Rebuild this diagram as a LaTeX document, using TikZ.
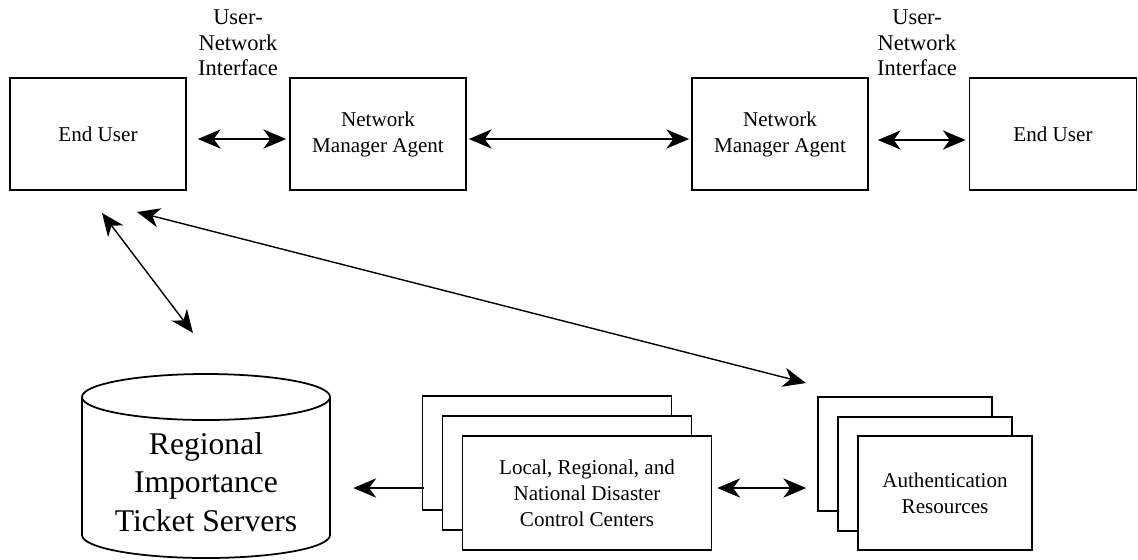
\documentclass[tikz,border=0pt]{standalone}
\usepackage{fontspec}
\setmainfont{Liberation Serif}
\usetikzlibrary{arrows.meta}
\tikzset{
  box/.style={draw, line width=1pt, fill=white, minimum width=3.52cm, minimum height=2.24cm, align=center, font=\fontsize{12}{14.8}\selectfont},
  stackbox/.style={box, minimum height=2.28cm},
  lbl/.style={align=center, font=\fontsize{12.8}{14.5}\selectfont},
  arr/.style={line width=0.8pt, {Stealth[length=13pt,width=11pt,inset=4pt]}-{Stealth[length=13pt,width=11pt,inset=4pt]}},
  arrl/.style={line width=0.8pt, -{Stealth[length=13pt,width=11pt,inset=4pt]}}
}
\begin{document}
\begin{tikzpicture}[x=0.02cm,y=-0.02cm]
\useasboundingbox (0,0) rectangle (1138,559);
\node[box] (eu1) at (98,134) {End User};
\node[box] (nma1) at (378,134) {Network\\Manager Agent};
\node[box] (nma2) at (780,134) {Network\\Manager Agent};
\node[box, minimum width=3.34cm] (eu2) at (1053,134) {End User};
\node[lbl] (uni1) at (238,43) {User-\\Network\\Interface};
\node[lbl] (uni2) at (917,43) {User-\\Network\\Interface};

\node[stackbox, minimum width=4.98cm] (dcc3) at (547,453) {};
\node[stackbox, minimum width=4.98cm] (dcc2) at (567,473) {};
\node[stackbox, minimum width=4.98cm] (dcc) at (587,493) {Local, Regional, and\\National Disaster\\Control Centers};
\node[stackbox, minimum width=3.48cm] (auth3) at (905,454) {};
\node[stackbox, minimum width=3.48cm] (auth2) at (925,474) {};
\node[stackbox, minimum width=3.48cm] (auth) at (945,493) {Authentication\\Resources};

\draw[line width=1pt] (82,397) -- (82,535) arc[start angle=180, end angle=0, x radius=124, y radius=23] -- (330,397);
\draw[line width=1pt] (206,397) ellipse[x radius=124, y radius=23];
\node[align=center, minimum width=4.96cm, minimum height=3.7cm, font=\fontsize{18}{21.8}\selectfont] (rits) at (206,482) {Regional\\Importance\\Ticket Servers};

\coordinate (eu1a) at (102,213);
\coordinate (eu1b) at (137,212);
\coordinate (ritsa) at (193,333);
\coordinate (autha) at (806,383);
\draw[arr] ([shift={(11,5)}]eu1.east) -- ([shift={(-3,5)}]nma1.west);
\draw[arr] ([shift={(2,5)}]nma1.east) -- ([shift={(-2,5)}]nma2.west);
\draw[arr] ([shift={(9,6)}]nma2.east) -- ([shift={(-3,6)}]eu2.west);
\draw[arr] (eu1a) -- (ritsa);
\draw[arr] (eu1b) -- (autha);
\draw[arrl] ([shift={(2,35)}]dcc3.west) -- ([shift={(23,6)}]rits.east);
\draw[arr] ([shift={(5,-5)}]dcc.east) -- ([shift={(-11,34)}]auth3.west);
\end{tikzpicture}
\end{document}
